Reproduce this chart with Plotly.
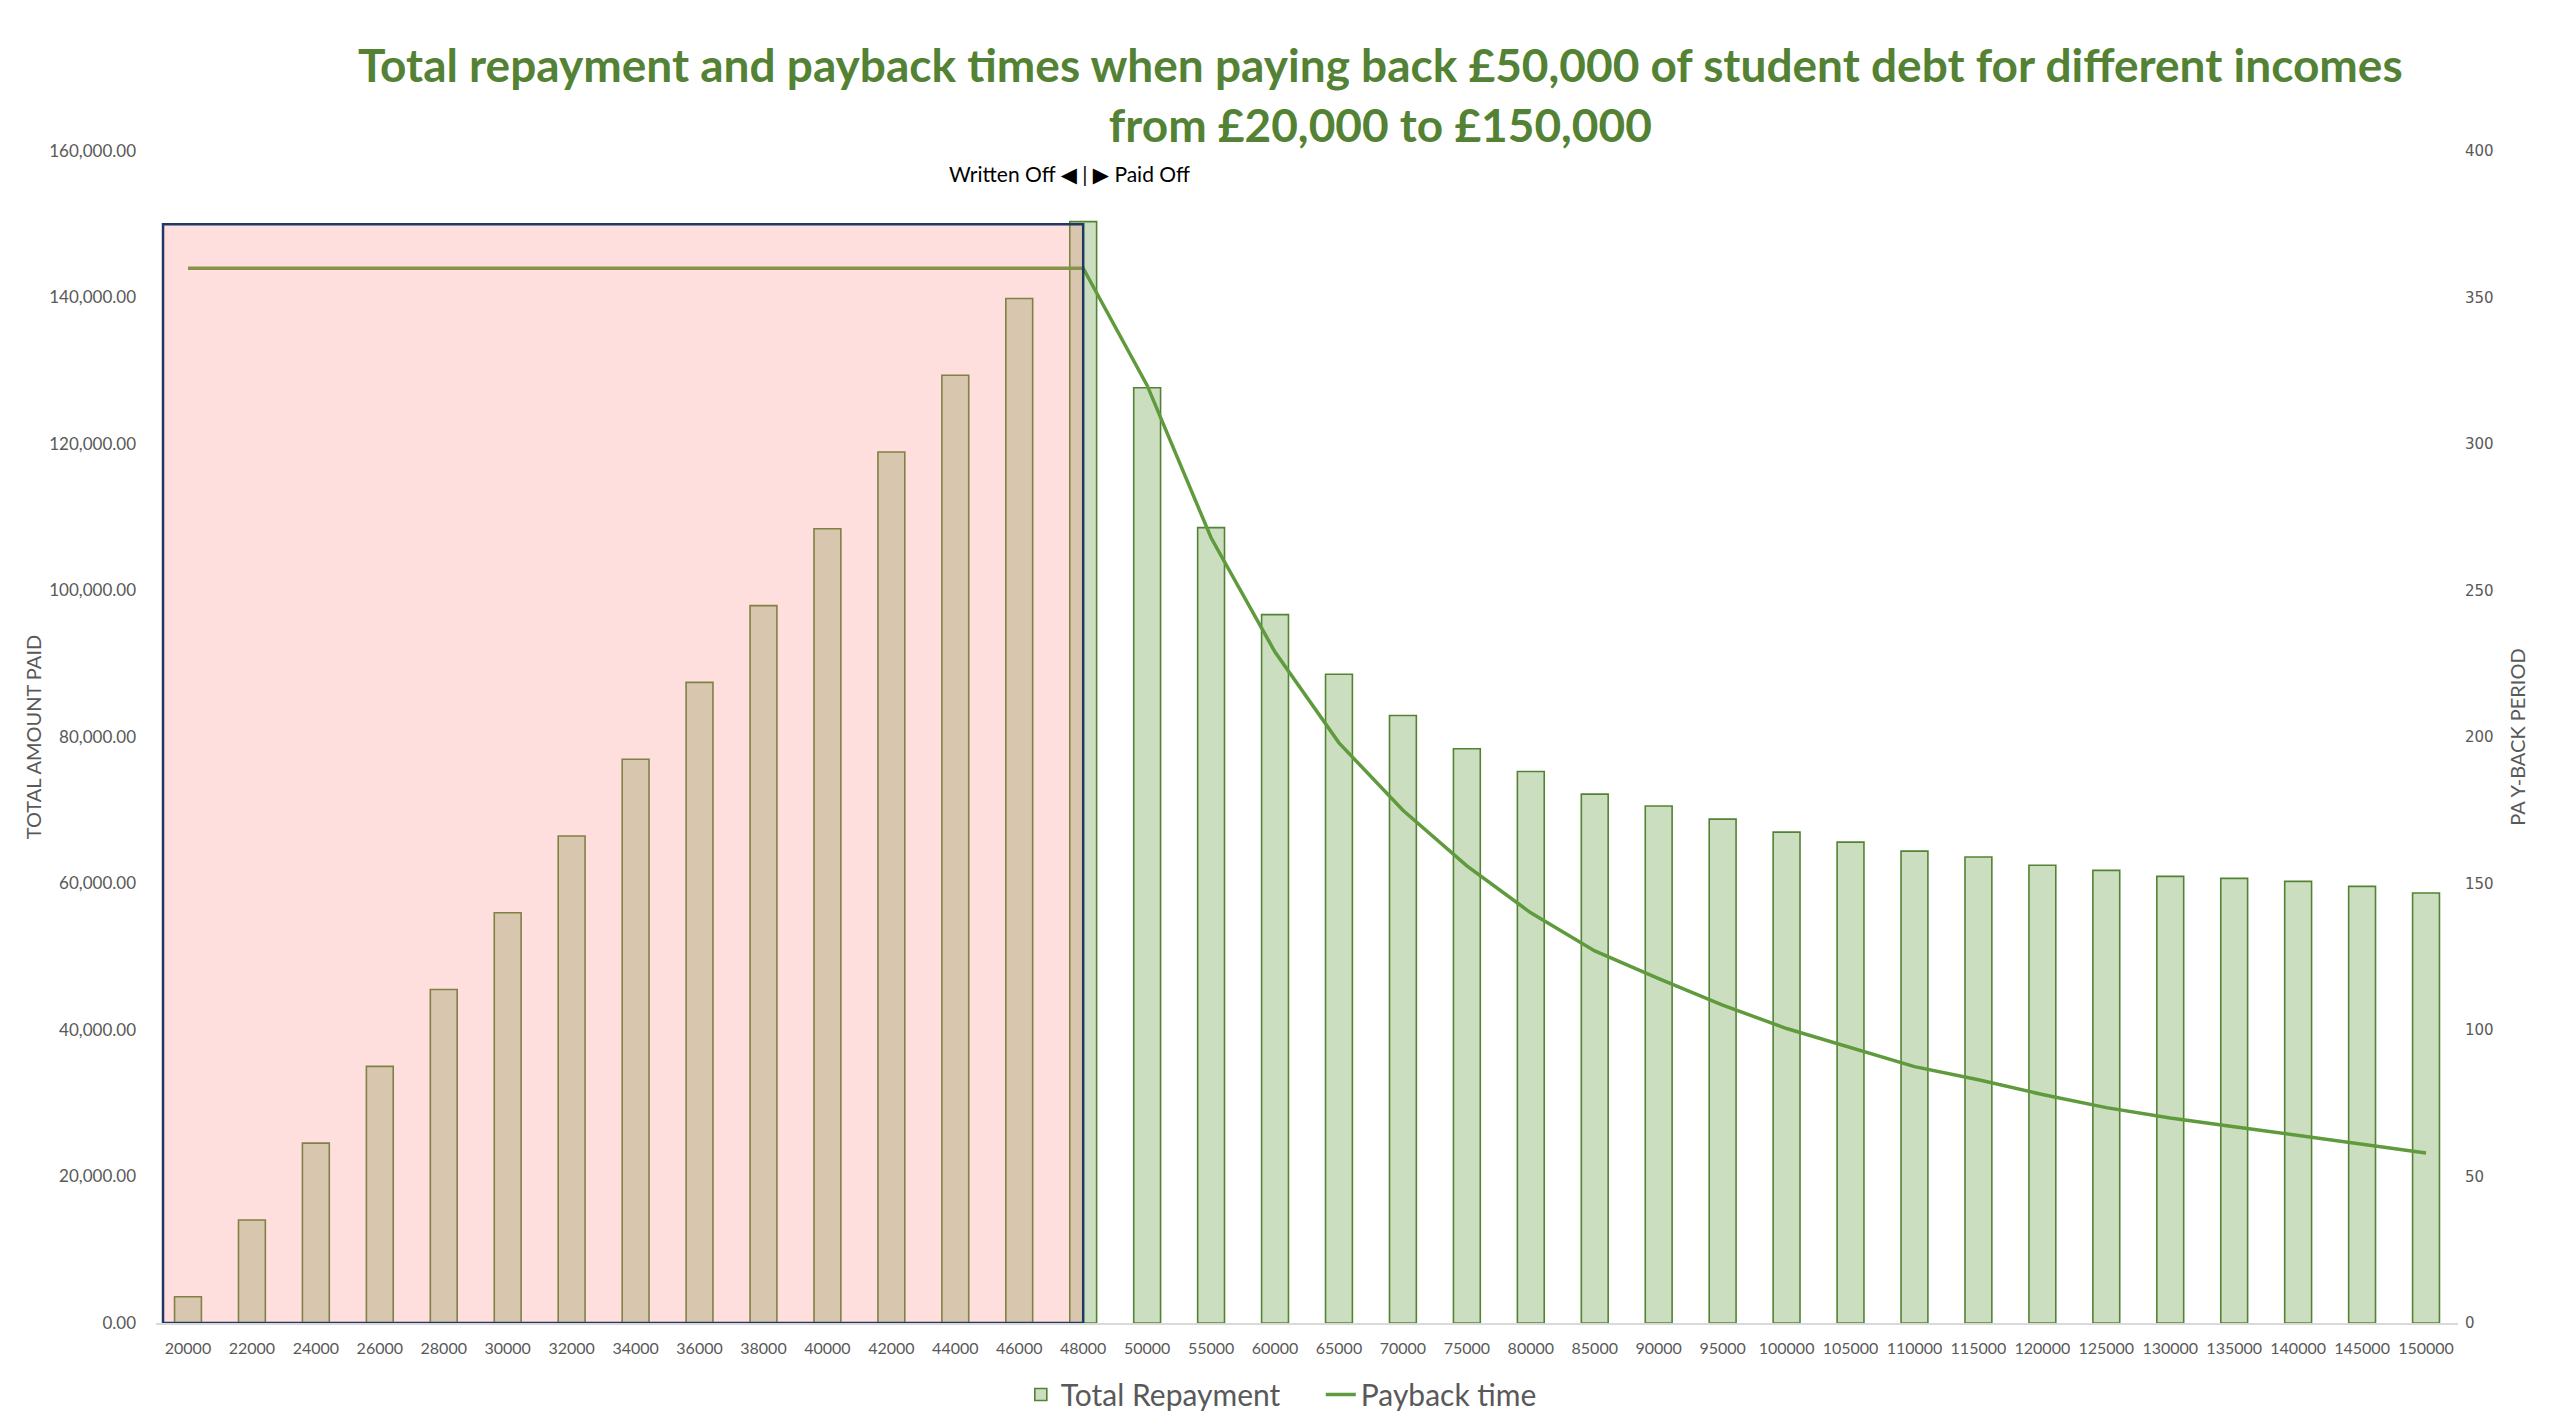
import plotly.graph_objects as go

incomes = ["20000", "22000", "24000", "26000", "28000", "30000", "32000", "34000",
           "36000", "38000", "40000", "42000", "44000", "46000", "48000", "50000",
           "55000", "60000", "65000", "70000", "75000", "80000", "85000", "90000",
           "95000", "100000", "105000", "110000", "115000", "120000", "125000",
           "130000", "135000", "140000", "145000", "150000"]

total_repayment = [3590, 14070, 24550, 35040, 45520, 56010, 66490, 76970,
                   87460, 97940, 108420, 118910, 129390, 139870, 150360, 127680,
                   108580, 96710, 88570, 82940, 78400, 75300, 72200, 70570,
                   68790, 67020, 65650, 64420, 63610, 62500, 61790,
                   60970, 60700, 60290, 59610, 58700]

payback_time = [360, 360, 360, 360, 360, 360, 360, 360,
                360, 360, 360, 360, 360, 360, 360, 320,
                268, 229, 198, 175, 156, 140, 127, 117.5,
                108.5, 100.5, 94, 87.5, 83, 78, 73.5,
                70, 67, 64, 61, 58]

left_ticks = [0, 20000, 40000, 60000, 80000, 100000, 120000, 140000, 160000]
right_ticks = [0, 50, 100, 150, 200, 250, 300, 350, 400]

title_text = ("Total repayment and payback times when paying back £50,000 of student debt for different incomes"
              "<br>from £20,000 to £150,000")
divider_text = "Written Off ◀ | ▶ Paid Off"
written_off_end = "48000"
written_off_top = 150000

GREY = "#595959"
GREEN_DARK = "#548235"

fig = go.Figure()

fig.add_trace(go.Bar(
    x=incomes, y=total_repayment, name="Total Repayment",
    marker=dict(color="#cbdfc0", line=dict(color=GREEN_DARK, width=1.6)),
    yaxis="y",
))

fig.add_trace(go.Scatter(
    x=incomes, y=payback_time, name="Payback time", mode="lines",
    line=dict(color="#5f9a3c", width=3.5),
    yaxis="y2",
))

idx_end = incomes.index(written_off_end)

fig.add_shape(
    type="rect", xref="x", yref="y",
    x0=-0.39, x1=idx_end, y0=0, y1=written_off_top,
    fillcolor="rgba(255,128,119,0.25)",
    line=dict(color="#1f3864", width=2.5),
    layer="above",
)

fig.add_annotation(
    x=idx_end, xref="x", y=0.981, yref="paper",
    text=divider_text, showarrow=False, xshift=-14,
    font=dict(family="Lato, DejaVu Sans", size=21, color="#000000"),
    xanchor="center", yanchor="middle",
)

fig.add_annotation(
    x=0.532, xref="paper", y=1.099, yref="paper",
    text="<b>" + title_text.replace("<br>", "</b><br><b>") + "</b>",
    showarrow=False, xanchor="center", yanchor="top", align="center",
    font=dict(family="Lato", size=46, color=GREEN_DARK),
)

fig.update_layout(
    width=2559, height=1427,
    paper_bgcolor="white", plot_bgcolor="white",
    margin=dict(l=148, r=109, t=143, b=112),
    bargap=0.58,
    showlegend=True,
    legend=dict(
        orientation="h", x=0.506, xanchor="center", y=-0.061, yanchor="middle",
        font=dict(family="Lato", size=30, color=GREY),
        entrywidth=255, entrywidthmode="pixels", tracegroupgap=0,
    ),
    xaxis=dict(
        type="category", range=[-0.5, len(incomes) - 0.5],
        showgrid=False, zeroline=False,
        showline=True, linecolor="#d9d9d9", linewidth=2,
        ticks="", ticklen=0, tickfont=dict(family="Lato", size=16, color=GREY),
        ticklabelstandoff=10,
    ),
    yaxis=dict(
        range=[0, 160000], tickvals=left_ticks, tickformat=",.2f",
        showgrid=False, zeroline=False, showline=False, ticks="", ticklen=0,
        tickfont=dict(family="Lato", size=17, color=GREY),
        ticklabelstandoff=19,
        title=dict(text="TOTAL AMOUNT PAID", standoff=2,
                   font=dict(family="Lato", size=20, color=GREY)),
    ),
    yaxis2=dict(
        range=[0, 400], tickvals=right_ticks, overlaying="y", side="right",
        showgrid=False, zeroline=False, showline=False, ticks="", ticklen=0,
        tickfont=dict(family="DejaVu Sans", size=15, color=GREY),
        ticklabelstandoff=6,
        title=dict(text="PA Y-BACK PERIOD", standoff=18,
                   font=dict(family="Lato", size=20, color=GREY)),
    ),
)

fig.write_html("out.html")
